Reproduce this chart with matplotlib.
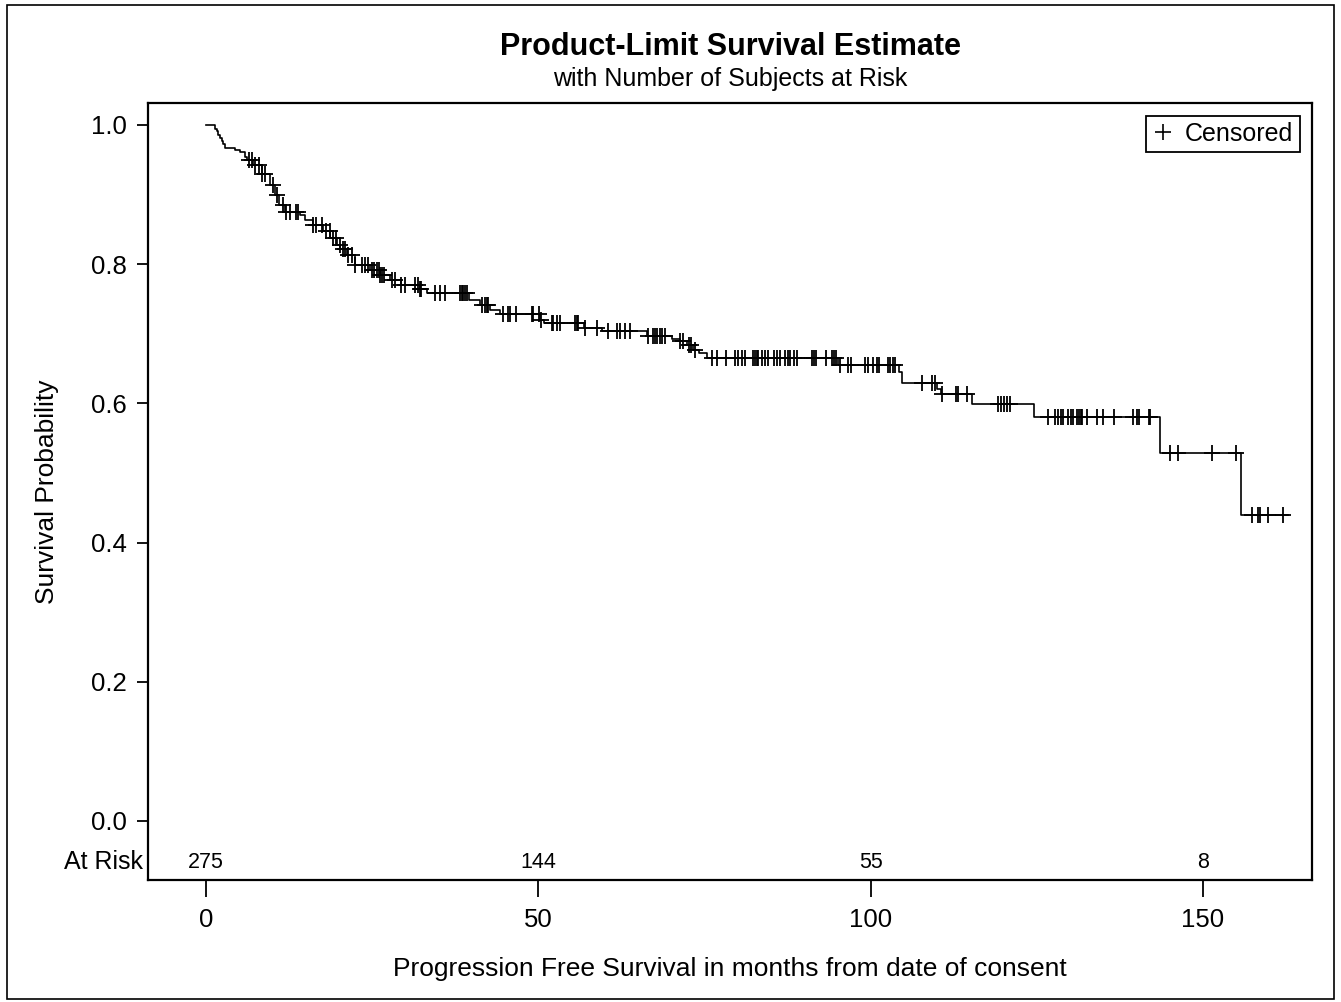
import numpy as np
import matplotlib
matplotlib.use("Agg")
import matplotlib.pyplot as plt
from matplotlib.lines import Line2D
from matplotlib.patches import Rectangle

plt.rcParams["font.family"] = ["Liberation Sans", "DejaVu Sans"]

# Kaplan-Meier steps: (time, survival after the drop)
event_times = [1.35, 1.6, 1.85, 2.1, 2.35, 2.6, 2.86, 4.4, 5.1, 5.9, 6.1, 7.1, 8.4,
               9.6, 10.4, 10.9, 11.9, 14.1, 14.9, 16.1, 17.6, 18.7, 19.7, 20.2, 21.2,
               22.4, 24.7, 26.2, 27.7, 29.4, 32.2, 33.2, 39.5, 41.2, 42.7, 44.2, 50.3,
               50.8, 56.8, 59.5, 66.3, 70.1, 71.3, 72.3, 73.3, 74.1, 75.3, 95.1, 104.2,
               104.7, 110.0, 110.6, 115.2, 124.5, 143.5, 155.7]
survival = [0.994, 0.991, 0.986, 0.982, 0.977, 0.972, 0.967, 0.964, 0.961, 0.954, 0.950,
            0.943, 0.930, 0.914, 0.899, 0.885, 0.875, 0.871, 0.864, 0.856, 0.847, 0.837,
            0.828, 0.822, 0.813, 0.799, 0.792, 0.784, 0.777, 0.770, 0.765, 0.758, 0.748,
            0.741, 0.734, 0.729, 0.720, 0.715, 0.708, 0.704, 0.697, 0.693, 0.689, 0.684,
            0.677, 0.672, 0.665, 0.655, 0.645, 0.629, 0.621, 0.613, 0.599, 0.580, 0.529,
            0.440]
last_time = 162.8

censored_times = [6.4, 6.9, 7.4, 7.9, 8.4, 8.9, 10.1, 10.6, 11.6, 12.1, 12.6, 13.6, 13.9,
                  16.1, 16.6, 17.4, 18.1, 18.6, 19.1, 19.6, 20.1, 20.6, 20.9, 21.4, 21.9,
                  22.4, 23.4, 23.9, 24.4, 24.9, 25.2, 25.7, 26.0, 26.2, 26.5, 26.7, 27.9,
                  28.4, 29.4, 29.9, 31.4, 31.9, 32.2, 32.4, 34.4, 35.2, 36.0, 38.2, 38.5,
                  38.7, 39.0, 39.2, 41.5, 42.0, 42.2, 42.4, 44.7, 45.5, 45.7, 46.6, 49.0,
                  49.2, 50.1, 50.4, 52.0, 52.2, 52.8, 53.3, 55.5, 55.8, 56.0, 57.0, 58.8,
                  60.5, 61.8, 62.3, 63.0, 63.8, 66.5, 67.3, 67.5, 67.8, 68.3, 68.6, 69.1,
                  71.3, 71.8, 72.6, 72.9, 73.6, 76.1, 76.8, 78.3, 79.6, 80.1, 80.6, 81.1,
                  82.3, 82.6, 82.9, 83.1, 83.6, 84.1, 84.6, 85.4, 85.9, 86.4, 87.1, 87.6,
                  87.9, 88.4, 88.9, 91.1, 91.4, 91.8, 93.3, 94.2, 94.5, 94.8, 95.4, 96.6,
                  97.1, 99.1, 99.6, 100.4, 100.9, 101.3, 102.6, 102.9, 103.4, 103.7, 107.7,
                  109.2, 109.7, 110.8, 112.9, 113.2, 114.5, 119.2, 119.6, 120.1, 120.5,
                  121.0, 126.6, 127.8, 128.2, 128.6, 128.9, 129.7, 130.1, 130.5, 131.1,
                  131.4, 131.6, 131.8, 132.6, 134.1, 135.0, 136.6, 139.4, 140.1, 140.4,
                  141.8, 142.0, 145.1, 146.3, 151.4, 154.9, 157.3, 158.3, 158.6, 159.8,
                  162.1]

risk_times = [0, 50, 100, 150]
at_risk = [275, 144, 55, 8]

fig = plt.figure(figsize=(13.41, 10.02), dpi=100)
ax = fig.add_axes([0.1104, 0.1218, 0.868, 0.7754])

# step curve
xs = np.r_[0.0, event_times, last_time]
ys = np.r_[1.0, survival, survival[-1]]
ax.step(xs, ys, where="post", color="black", lw=1.2)

# censor marks sit on the curve
levels = np.r_[1.0, survival]
idx = np.searchsorted(event_times, censored_times, side="right")
ax.plot(censored_times, levels[idx], linestyle="none", marker="+", color="black",
        markersize=12, markeredgewidth=1.3)

# number at risk row
for t, n in zip(risk_times, at_risk):
    ax.text(t, -0.059, str(n), ha="center", va="center", fontsize=15.5)
ax.text(-9.5, -0.059, "At Risk", ha="right", va="center", fontsize=18)

ax.set_xlim(-8.73, 166.4)
ax.set_ylim(-0.0848, 1.0316)
ax.set_xticks(risk_times)
ax.set_yticks([0.0, 0.2, 0.4, 0.6, 0.8, 1.0])
ax.set_yticklabels(["0.0", "0.2", "0.4", "0.6", "0.8", "1.0"])
ax.tick_params(axis="x", length=12, width=1.3, pad=8, labelsize=18.5)
ax.tick_params(axis="y", length=8, width=1.3, pad=7, labelsize=18.5)
for sp in ax.spines.values():
    sp.set_linewidth(1.6)

ax.set_xlabel("Progression Free Survival in months from date of consent", fontsize=19,
              labelpad=18)
ax.set_ylabel("Survival Probability", fontsize=19, labelpad=23)

handle = Line2D([], [], linestyle="none", marker="+", color="black", markersize=12,
                markeredgewidth=1.2)
leg = ax.legend([handle], ["Censored"], loc="upper right", fontsize=18, handlelength=0.8,
                handletextpad=0.5, borderpad=0.25, fancybox=False, framealpha=1,
                borderaxespad=0.5)
leg.get_frame().set_edgecolor("black")
leg.get_frame().set_linewidth(1.3)

# titles are centred over the plot area, not the whole figure
cx = 0.1104 + 0.868 / 2
fig.text(cx, 0.953, "Product-Limit Survival Estimate", ha="center", va="center",
         fontsize=22, fontweight="bold")
fig.text(cx, 0.921, "with Number of Subjects at Risk", ha="center", va="center",
         fontsize=18)

# outer border around the whole graph
fig.patches.append(Rectangle((0.005, 0.003), 0.99, 0.992, transform=fig.transFigure,
                             fill=False, edgecolor="black", linewidth=1.2))

fig.savefig("out.png", dpi=100)
